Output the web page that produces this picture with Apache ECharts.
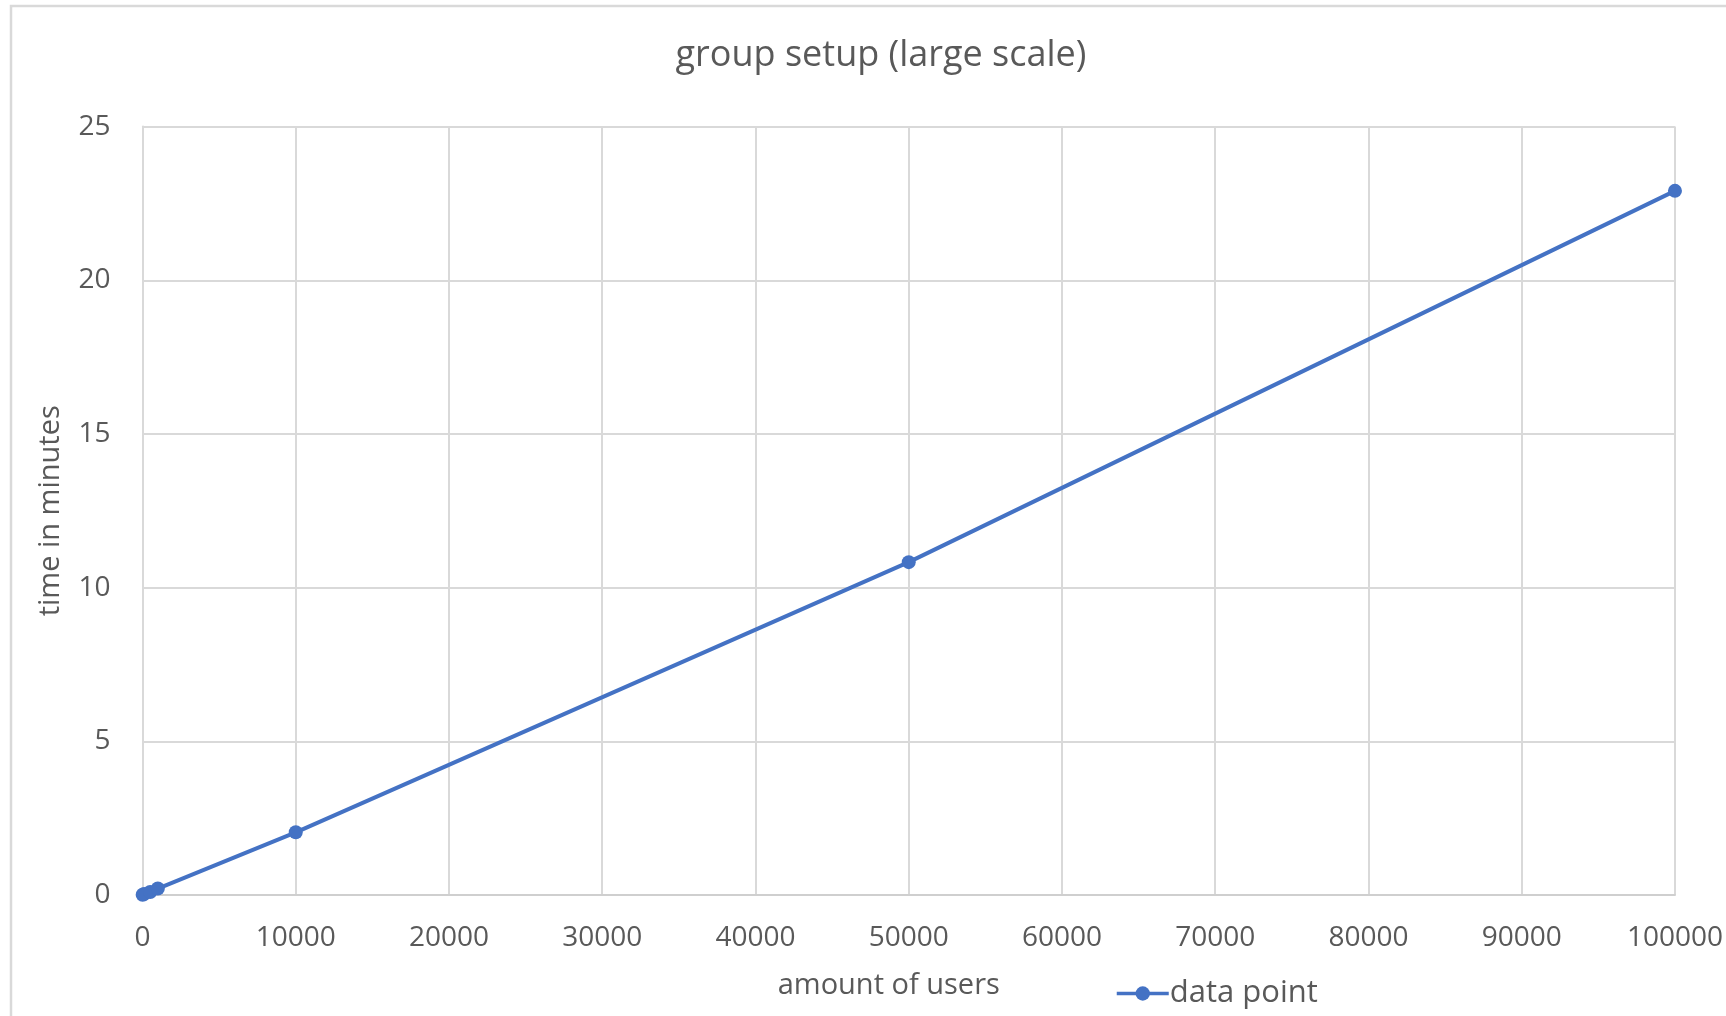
<!DOCTYPE html>
<html>
<head>
<meta charset="utf-8">
<title>group setup (large scale)</title>
<script src="https://cdn.jsdelivr.net/npm/echarts@6/dist/echarts.min.js"></script>
<style>
  html, body { margin: 0; padding: 0; background: #ffffff; }
  #chart { width: 1726px; height: 1016px; }
</style>
</head>
<body>
<div id="chart"></div>
<script>
// Setup time measured for groups of various sizes
const chartTitle = 'group setup (large scale)';
const xAxisTitle = 'amount of users';
const yAxisTitle = 'time in minutes';
const seriesName = 'data point';

const userCounts = [10, 100, 500, 1000, 10000, 50000, 100000];
const minutes = [0.01, 0.03, 0.1, 0.21, 2.04, 10.83, 22.91];

const xTicks = { min: 0, max: 100000, step: 10000 };
const yTicks = { min: 0, max: 25, step: 5 };

const textColor = '#595959';
const gridColor = '#d9d9d9';
const lineColor = '#4472c4';
const fontFamily = '"Open Sans", "Noto Sans", sans-serif';

const chart = echarts.init(document.getElementById('chart'), null, { renderer: 'canvas' });

chart.setOption({
  backgroundColor: '#ffffff',
  animation: false,
  title: {
    text: chartTitle,
    left: 876,
    top: 51,
    textAlign: 'center',
    textVerticalAlign: 'middle',
    textStyle: { color: textColor, fontFamily, fontSize: 36, fontWeight: 'normal' }
  },
  graphic: [{
    type: 'rect',
    shape: { x: 11, y: 6, width: 1760, height: 1060 },
    style: { fill: 'none', stroke: gridColor, lineWidth: 2.5 },
    z: -1
  }],
  legend: {
    data: [{ name: seriesName }],
    left: 1110,
    top: 973,
    itemWidth: 52,
    itemHeight: 18,
    itemGap: 4,
    lineStyle: { width: 3.5 },
    textStyle: { color: textColor, fontFamily, fontSize: 31, padding: [0, 0, 0, -4] }
  },
  grid: { left: 142.5, right: 46, top: 126.6, bottom: 121, containLabel: false },
  xAxis: {
    type: 'value',
    min: xTicks.min,
    max: xTicks.max,
    interval: xTicks.step,
    name: xAxisTitle,
    nameLocation: 'middle',
    nameGap: 76,
    nameTextStyle: { color: textColor, fontFamily, fontSize: 29, padding: [0, 40, 0, 0] },
    axisLine: { show: true, lineStyle: { color: '#cfcfcf', width: 2 } },
    axisTick: { show: false },
    axisLabel: { color: textColor, fontFamily, fontSize: 28, margin: 29, formatter: v => String(v) },
    splitLine: { show: true, lineStyle: { color: gridColor, width: 2 } }
  },
  yAxis: {
    type: 'value',
    min: yTicks.min,
    max: yTicks.max,
    interval: yTicks.step,
    name: yAxisTitle,
    nameLocation: 'middle',
    nameGap: 77,
    nameRotate: 90,
    nameTextStyle: { color: textColor, fontFamily, fontSize: 29 },
    axisLine: { show: true, lineStyle: { color: gridColor, width: 2 } },
    axisTick: { show: false },
    axisLabel: { color: textColor, fontFamily, fontSize: 28, margin: 32 },
    splitLine: { show: true, lineStyle: { color: gridColor, width: 2 } }
  },
  series: [{
    name: seriesName,
    type: 'line',
    data: userCounts.map((u, i) => [u, minutes[i]]),
    symbol: 'circle',
    symbolSize: 14,
    showSymbol: true,
    lineStyle: { color: lineColor, width: 4 },
    itemStyle: { color: lineColor },
    clip: false
  }]
});
</script>
</body>
</html>
